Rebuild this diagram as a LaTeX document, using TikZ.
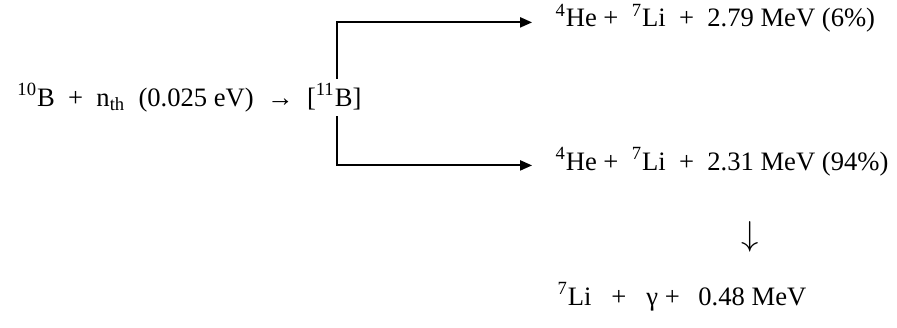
\documentclass[tikz,border=0pt]{standalone}
\usepackage{fontspec}
\setmainfont{Liberation Serif}
\usepackage{tikz}
\usetikzlibrary{arrows.meta,positioning}

\begin{document}
\begin{tikzpicture}[
    species/.style={
        inner sep=0pt,
        font=\fontsize{13.3}{16}\selectfont,
        anchor=base west
    },
    branch/.style={
        line width=1pt,
        -{Triangle[length=6pt,width=5pt]},
        shorten >=11.5pt
    }
]

\useasboundingbox (0, 0) rectangle (15.76, -5.75);

% Capture reaction
\node[species] (capture) at (0.30, -1.863)
    {\textsuperscript{10}B \ + \ n\textsubscript{th} \ (0.025 eV) \ → \ [\textsuperscript{11}B]};
\coordinate (split) at (5.922, -1.2);

% Products of the two branches
\node[species] (branchA) at (9.753, -0.474)
    {\textsuperscript{4}He + \ \textsuperscript{7}Li \ + \ 2.79 MeV (6\%)};
\node[species] (branchB) at (9.753, -2.987)
    {\textsuperscript{4}He + \ \textsuperscript{7}Li \ + \ 2.31 MeV (94\%)};

% De-excitation of the excited lithium
\node[species, anchor=center, font=\fontsize{17}{20}\selectfont] (decay) at (13.18, -4.165) {$\downarrow$};
\node[species] (ground) at (9.788, -5.36)
    {\textsuperscript{7}Li\hspace{0.75em}+\hspace{0.75em}γ + \hspace{0.45em}0.48 MeV};

% Branch arrows
\draw[branch, shorten <=2pt] (capture.north -| split) |- (branchA.mid west);
\draw[branch, shorten <=2pt] (capture.south -| split) |- (branchB.mid west);

\end{tikzpicture}
\end{document}
